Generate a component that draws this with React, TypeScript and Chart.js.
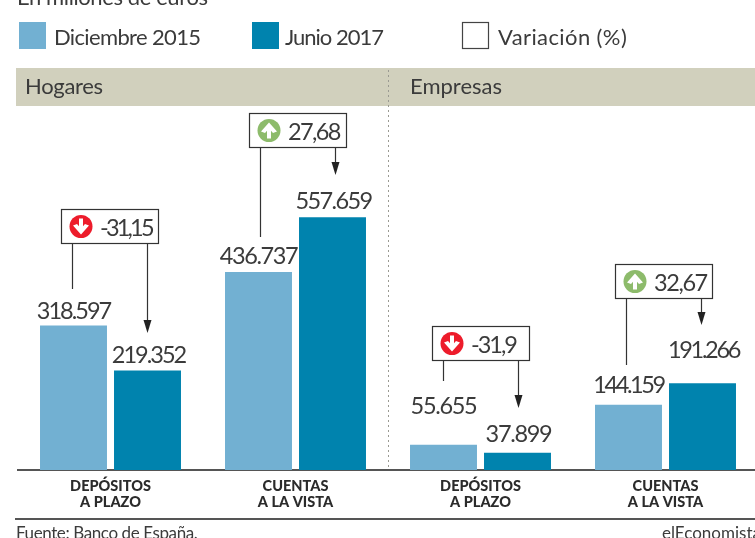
import React, { useEffect, useRef } from "react";
import { Chart, registerables } from "chart.js";

Chart.register(...registerables);

const categories = [
  ["DEPÓSITOS", "A PLAZO"],
  ["CUENTAS", "A LA VISTA"],
  ["DEPÓSITOS", "A PLAZO"],
  ["CUENTAS", "A LA VISTA"],
];
const diciembre2015 = [318597, 436737, 55655, 144159];
const junio2017 = [219352, 557659, 37899, 191266];
const variacion = ["-31,15", "27,68", "-31,9", "32,67"];
const variacionUp = [false, true, false, true];
const seriesNames = ["Diciembre 2015", "Junio 2017"];
const variationLegend = "Variación (%)";
const panels = ["Hogares", "Empresas"];
const subtitle = "En millones de euros";
const source = "Fuente: Banco de España.";
const brand = "elEconomista";

const LIGHT = "#72b0d2";
const DARK = "#0083ae";
const INK = "#3b3b3b";
const FONT = "Lato";

// Layout of annotations (pixels relative to the bars / page)
const labelLift = [
  [7, 8, 31, 12],
  [8, 8, 11, 25],
];
const labelTrack = [
  [-2, -1.4, -1.3, -2.4],
  [-2, -1.6, -1.3, -2.3],
];
const calloutTrack = [-2.8, -1.6, -2, -1.4];
const legendTrack = [-0.65, -1];
const calloutDx = [-49.5, -47, -48.5, -50.5];
const calloutTop = [209, 113, 326, 264];
const leftLineEnd = [289, 237, 381, 365];
const arrowEnd = [333, 175, 408, 325];

function arrowIcon(ctx: CanvasRenderingContext2D, cx: number, cy: number, up: boolean) {
  ctx.save();
  ctx.fillStyle = up ? "#8dbb6b" : "#ed1c2b";
  ctx.beginPath();
  ctx.arc(cx, cy, 11.5, 0, Math.PI * 2);
  ctx.fill();
  ctx.translate(cx, cy);
  if (!up) ctx.rotate(Math.PI);
  ctx.strokeStyle = "#fff";
  ctx.lineWidth = 4;
  ctx.beginPath();
  ctx.moveTo(0, 8);
  ctx.lineTo(0, -4);
  ctx.stroke();
  ctx.fillStyle = "#fff";
  ctx.beginPath();
  ctx.moveTo(0, -8);
  ctx.lineTo(8, 1);
  ctx.lineTo(4, 2.5);
  ctx.lineTo(0, -2);
  ctx.lineTo(-4, 2.5);
  ctx.lineTo(-8, 1);
  ctx.closePath();
  ctx.fill();
  ctx.restore();
}

function tracked(ctx: any, txt: string, x: number, y: number, spacing: number) {
  ctx.letterSpacing = `${spacing}px`;
  ctx.fillText(txt, x, y);
  ctx.letterSpacing = "0px";
}

const decorPlugin = {
  id: "decor",
  beforeDatasetsDraw(chart: any) {
    const ctx: CanvasRenderingContext2D = chart.ctx;
    ctx.save();
    ctx.fillStyle = "#d1d0bd";
    ctx.fillRect(16, 68, 760, 38);
    ctx.strokeStyle = "#9a9a92";
    ctx.lineWidth = 1;
    ctx.setLineDash([2, 3]);
    ctx.beginPath();
    ctx.moveTo(388.5, 70);
    ctx.lineTo(388.5, 470);
    ctx.stroke();
    ctx.setLineDash([]);
    ctx.restore();
  },
  afterDatasetsDraw(chart: any) {
    const ctx: CanvasRenderingContext2D = chart.ctx;
    const xs = chart.scales.x;
    ctx.save();
    ctx.textBaseline = "alphabetic";
    ctx.fillStyle = INK;

    // subtitle
    ctx.font = `22px ${FONT}`;
    ctx.textAlign = "left";
    tracked(ctx, subtitle, 17, 5, -0.4);

    // legend
    const lx = [19, 252];
    const tx = [54, 285];
    chart.data.datasets.forEach((d: any, i: number) => {
      ctx.fillStyle = d.backgroundColor;
      ctx.fillRect(lx[i], 22, 27, 27);
      ctx.fillStyle = INK;
      tracked(ctx, seriesNames[i], tx[i], 45, legendTrack[i]);
    });
    ctx.fillStyle = "#fff";
    ctx.strokeStyle = "#444";
    ctx.lineWidth = 1.2;
    ctx.fillRect(462.5, 22.5, 26, 26);
    ctx.strokeRect(462.5, 22.5, 26, 26);
    ctx.fillStyle = INK;
    tracked(ctx, variationLegend, 498, 45, 0.4);

    // panel names
    tracked(ctx, panels[0], 25, 94, -0.3);
    ctx.fillText(panels[1], 410, 94);

    // value labels
    ctx.font = `23.5px ${FONT}`;
    ctx.textAlign = "center";
    chart.data.datasets.forEach((d: any, di: number) => {
      chart.getDatasetMeta(di).data.forEach((bar: any, i: number) => {
        const txt = new Intl.NumberFormat("de-DE").format(d.data[i]);
        tracked(ctx, txt, bar.x + di, bar.y - labelLift[di][i], labelTrack[di][i]);
      });
    });

    // call-outs
    variacion.forEach((txt, i) => {
      const left = Math.round(xs.getPixelForValue(i) + calloutDx[i]) + 0.5;
      const top = calloutTop[i] + 0.5;
      const w = 97;
      const h = 34;
      ctx.strokeStyle = "#333";
      ctx.lineWidth = 1.2;
      ctx.fillStyle = "#fff";
      ctx.fillRect(left, top, w, h);
      ctx.strokeRect(left, top, w, h);
      ctx.beginPath();
      ctx.moveTo(left + 11, top + h);
      ctx.lineTo(left + 11, leftLineEnd[i]);
      ctx.moveTo(left + 86, top + h);
      ctx.lineTo(left + 86, arrowEnd[i] - 8);
      ctx.stroke();
      ctx.fillStyle = "#222";
      ctx.beginPath();
      ctx.moveTo(left + 86, arrowEnd[i]);
      ctx.lineTo(left + 82, arrowEnd[i] - 13);
      ctx.lineTo(left + 90, arrowEnd[i] - 13);
      ctx.closePath();
      ctx.fill();
      arrowIcon(ctx, left + 19.5, top + h / 2, variacionUp[i]);
      ctx.fillStyle = INK;
      ctx.font = `23.5px ${FONT}`;
      ctx.textAlign = "left";
      tracked(ctx, txt, left + 38.5, top + 26, calloutTrack[i]);
    });

    // footer
    ctx.strokeStyle = "#555";
    ctx.lineWidth = 2;
    ctx.beginPath();
    ctx.moveTo(15, 519);
    ctx.lineTo(775, 519);
    ctx.stroke();
    ctx.fillStyle = INK;
    ctx.font = `17px ${FONT}`;
    ctx.textAlign = "left";
    tracked(ctx, source, 16, 539, -0.4);
    ctx.fillText(brand, 662, 539);
    ctx.restore();
  },
};

export default function App() {
  const ref = useRef<HTMLCanvasElement>(null);
  useEffect(() => {
    const chart = new Chart(ref.current!, {
      type: "bar",
      data: {
        labels: categories,
        datasets: [
          { label: seriesNames[0], data: diciembre2015, backgroundColor: LIGHT },
          { label: seriesNames[1], data: junio2017, backgroundColor: DARK },
        ],
      },
      options: {
        animation: false,
        responsive: false,
        layout: { padding: { left: 18, right: 17, top: 198, bottom: 28 } },
        datasets: { bar: { categoryPercentage: 0.8, barPercentage: 0.905 } },
        plugins: { legend: { display: false }, title: { display: false }, tooltip: { enabled: false } },
        scales: {
          x: {
            grid: { display: false, drawTicks: false },
            border: { display: true, color: "#555", width: 2 },
            afterFit: (s: any) => { s.height = 40; },
            ticks: {
              color: "#2b2b2b",
              padding: 8,
              maxRotation: 0,
              font: { family: FONT, size: 14.5, weight: "900", lineHeight: 1.1 },
            },
          },
          y: { display: false, min: 0, max: 600000, grid: { display: false } },
        },
      },
      plugins: [decorPlugin],
    } as any);
    return () => chart.destroy();
  }, []);
  return (
    <div style={{ position: "fixed", left: 0, top: 0, width: 755, height: 538, overflow: "hidden", background: "#fff" }}>
      <canvas ref={ref} width={775} height={538} style={{ display: "block" }} />
    </div>
  );
}
